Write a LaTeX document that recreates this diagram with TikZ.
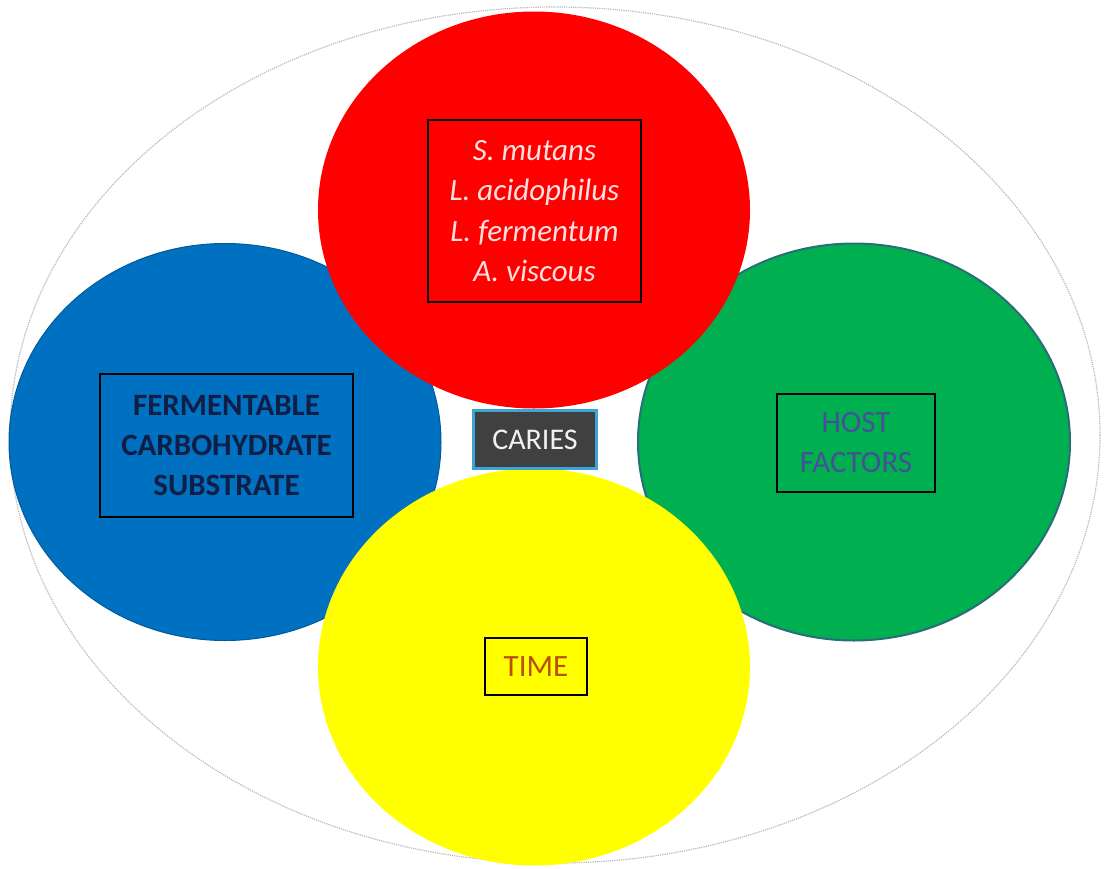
\documentclass[tikz,border=0pt]{standalone}
\usepackage{fontspec}
\setmainfont{Carlito}
\usetikzlibrary{shapes.geometric}
\definecolor{lobered}{RGB}{255,0,0}
\definecolor{lobeblue}{RGB}{0,112,192}
\definecolor{lobegreen}{RGB}{0,176,80}
\definecolor{lobeyellow}{RGB}{255,255,0}
\definecolor{navytext}{RGB}{16,30,70}
\definecolor{hosttext}{RGB}{70,80,150}
\definecolor{timetext}{RGB}{185,80,10}
\definecolor{cariesgrey}{RGB}{64,64,64}
\definecolor{cariesrim}{RGB}{60,165,215}
\definecolor{greenrim}{RGB}{40,110,120}
\begin{document}
\begin{tikzpicture}[x=1pt,y=-1pt,
    lobe/.style={ellipse,minimum width=432pt,minimum height=397pt,inner sep=0pt},
    factorbox/.style={draw=black,line width=2.5pt,align=center,inner sep=0pt,
      font=\fontsize{31}{40}\selectfont}]
    \useasboundingbox (0,0) rectangle (1106,868);
    \draw[gray!55,densely dotted,line width=1.2pt] (555,435) ellipse [x radius=545pt,y radius=428pt];
    \node[lobe,fill=lobeblue,draw=lobeblue!80!black,line width=1pt] (sugar) at (225,442) {};
    \node[lobe,fill=lobegreen,draw=greenrim,line width=2pt] (host) at (854,442) {};
    \node[lobe,fill=lobered] (microbes) at (534,210) {};
    \node[lobe,fill=lobeyellow] (time) at (534,667) {};
    \node[factorbox,minimum width=213pt,minimum height=182pt,text=red!12!white,
      font=\fontsize{31}{40.5}\selectfont\itshape] (microbesbox) at (534.5,211)
      {S. mutans\\L. acidophilus\\L. fermentum\\A. viscous};
    \node[factorbox,minimum width=253pt,minimum height=143pt,text=navytext,
      font=\fontsize{31}{40}\selectfont\bfseries] (sugarbox) at (226.5,445.5)
      {FERMENTABLE\\CARBOHYDRATE\\SUBSTRATE};
    \node[factorbox,minimum width=158pt,minimum height=98pt,text=hosttext] (hostbox) at (856,443)
      {HOST\\FACTORS};
    \node[factorbox,minimum width=102pt,minimum height=57pt,text=timetext] (timebox) at (536,666.5)
      {TIME};
    \node[fill=cariesgrey,draw=cariesrim,line width=3.5pt,inner sep=0pt,minimum width=123pt,
      minimum height=58pt,text=white!90!gray,font=\fontsize{30}{36}\selectfont] (caries) at (535,439.5)
      {CARIES};
\end{tikzpicture}
\end{document}
